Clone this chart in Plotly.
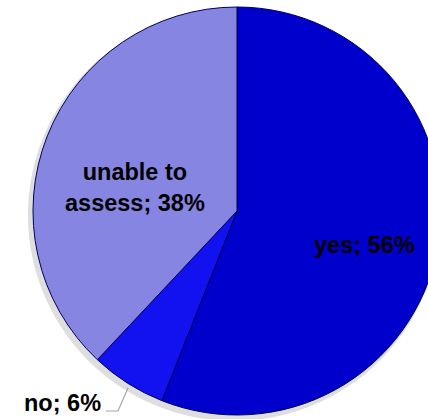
import plotly.graph_objects as go

labels = ["yes", "no", "unable to<br>assess"]
values = [56, 6, 38]
colors = ["#0000cc", "#1212f0", "#8686e2"]

W, H = 474, 432
cx, cy, r = 237, 211, 204

texts = [f"{l}; {v}%" for l, v in zip(labels, values)]
label_pos = [(364, 245), (103, 403), (135, 187)]
label_anchor = ["center", "right", "center"]

FONT = "Liberation Sans, Arial, sans-serif"

def dom(cx, cy, r):
    return dict(x=[(cx - r) / W, (cx + r) / W], y=[(H - cy - r) / H, (H - cy + r) / H])

fig = go.Figure()
# soft shadow
fig.add_trace(go.Pie(
    labels=["shadow"], values=[1], textinfo="none", sort=False,
    marker=dict(colors=["rgba(0,0,0,0.13)"], line=dict(width=0)),
    domain=dom(cx - 3, cy + 4, r + 2), showlegend=False, hoverinfo="none",
))
fig.add_trace(go.Pie(
    labels=labels,
    values=values,
    textinfo="none",
    sort=False,
    direction="clockwise",
    rotation=0,
    marker=dict(colors=colors, line=dict(color="#00005a", width=1)),
    domain=dom(cx, cy, r),
    showlegend=False,
    hoverinfo="none",
))

for t, (x, y), a in zip(texts, label_pos, label_anchor):
    fig.add_annotation(
        x=x / W, y=(H - y) / H, xref="paper", yref="paper",
        text=f"<b>{t}</b>", showarrow=False,
        xanchor=a, yanchor="middle", align="center",
        font=dict(family=FONT, size=23.5, color="#000000"),
    )

# leader line for the small slice
fig.add_shape(
    type="path", xref="paper", yref="paper",
    path=f"M {106/W},{(H-411)/H} L {118/W},{(H-411)/H} L {128/W},{(H-388)/H}",
    line=dict(color="#a6a6a6", width=1.2),
)

fig.update_layout(
    width=W, height=H,
    margin=dict(l=0, r=0, t=0, b=0),
    paper_bgcolor="white", plot_bgcolor="white",
)

fig.write_html(
    "out.html",
    config={"displayModeBar": False},
    post_script="document.body.style.margin='0';document.body.style.overflow='hidden';document.documentElement.style.overflow='hidden';",
)
